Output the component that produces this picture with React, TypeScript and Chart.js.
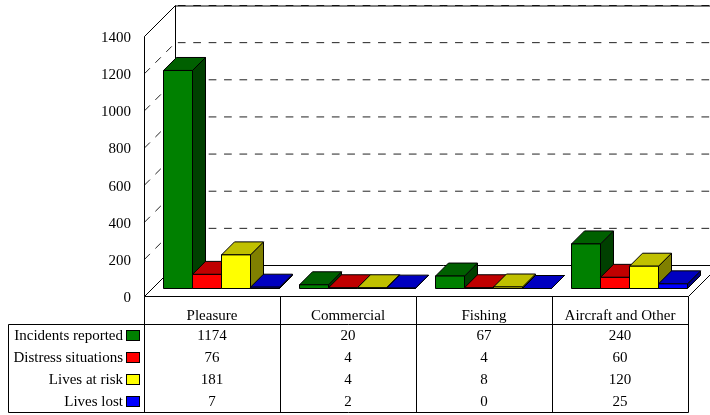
import React, { useEffect, useRef } from "react";
import { Chart, registerables } from "chart.js";

Chart.register(...registerables);

const categories = ["Pleasure", "Commercial", "Fishing", "Aircraft and Other"];
const seriesNames = ["Incidents reported", "Distress situations", "Lives at risk", "Lives lost"];
const incidentsReported = [1174, 20, 67, 240];
const distressSituations = [76, 4, 4, 60];
const livesAtRisk = [181, 4, 8, 120];
const livesLost = [7, 2, 0, 25];
const seriesValues = [incidentsReported, distressSituations, livesAtRisk, livesLost];

const frontColors = ["#008000", "#ff0000", "#ffff00", "#0000ff"];
const topColors = ["#006000", "#c00000", "#c0c000", "#0000c0"];
const sideColors = ["#004000", "#800000", "#808000", "#000080"];

const FAMILY = '"Liberation Serif", serif';
const FONT = `15px ${FAMILY}`;
const WALL = 31;
const BAR_DEPTH = 13;
const SHIFT_X = 9;
const SHIFT_Y = -8;
const TABLE_LEFT = 8;
const HEADER_BOTTOM = 324;
const ROW_H = 22;
const EDGE = 730;

function poly(ctx: CanvasRenderingContext2D, pts: number[][], fill?: string) {
  ctx.beginPath();
  pts.forEach((p, i) => (i ? ctx.lineTo(p[0], p[1]) : ctx.moveTo(p[0], p[1])));
  ctx.closePath();
  if (fill) {
    ctx.fillStyle = fill;
    ctx.fill();
  }
  ctx.stroke();
}

const chart3d = {
  id: "chart3d",
  beforeDatasetDraw() {
    return false;
  },
  beforeDatasetsDraw(chart: any) {
    const { ctx, chartArea: a, scales } = chart;
    const L = a.left, R = a.right, T = a.top, B = a.bottom;
    ctx.save();
    ctx.translate(0.5, 0.5);
    ctx.lineWidth = 1;

    // dashed grid running over the left wall and the back wall
    ctx.setLineDash([7.7, 7.7]);
    ctx.strokeStyle = "#222";
    scales.y.ticks.forEach((t: any) => {
      if (t.value === 0) return;
      const p = scales.y.getPixelForValue(t.value);
      ctx.beginPath();
      ctx.moveTo(L, p);
      ctx.lineTo(L + WALL, p - WALL);
      ctx.lineTo(EDGE, p - WALL);
      ctx.stroke();
    });
    ctx.setLineDash([]);
    ctx.strokeStyle = "#000";

    // walls and floor
    ctx.beginPath();
    ctx.moveTo(L, B);
    ctx.lineTo(L, T);
    ctx.lineTo(L + WALL, T - WALL);
    ctx.lineTo(L + WALL, B - WALL);
    ctx.lineTo(L, B);
    ctx.moveTo(L + WALL, T - WALL + 0.5);
    ctx.lineTo(EDGE, T - WALL + 0.5);
    ctx.moveTo(L + WALL, B - WALL);
    ctx.lineTo(EDGE, B - WALL);
    ctx.moveTo(R, B);
    ctx.lineTo(R + WALL, B - WALL);
    ctx.stroke();

    // data table
    const bottom = HEADER_BOTTOM + ROW_H * seriesNames.length;
    ctx.beginPath();
    ctx.moveTo(L, B);
    ctx.lineTo(R, B);
    ctx.moveTo(TABLE_LEFT, HEADER_BOTTOM);
    ctx.lineTo(R, HEADER_BOTTOM);
    ctx.moveTo(TABLE_LEFT, bottom);
    ctx.lineTo(R, bottom);
    ctx.moveTo(TABLE_LEFT, HEADER_BOTTOM);
    ctx.lineTo(TABLE_LEFT, bottom);
    const cw = (R - L) / categories.length;
    for (let i = 0; i <= categories.length; i++) {
      ctx.moveTo(L + cw * i, B);
      ctx.lineTo(L + cw * i, bottom);
    }
    ctx.stroke();

    ctx.font = FONT;
    ctx.textBaseline = "middle";
    seriesNames.forEach((name, r) => {
      const y = HEADER_BOTTOM + ROW_H * r + ROW_H / 2;
      ctx.fillStyle = "#000";
      ctx.textAlign = "right";
      ctx.fillText(name, L - 21.5, y + 0.5);
      ctx.textAlign = "center";
      seriesValues[r].forEach((v, c) => {
        ctx.fillText(String(v), L + cw * (c + 0.5) - 0.5, y + 0.5);
      });
      ctx.fillStyle = frontColors[r];
      ctx.fillRect(L - 18, y - 5, 13, 10);
      ctx.strokeRect(L - 18, y - 5, 13, 10);
    });

    // bars
    chart.data.datasets.forEach((_: any, d: number) => {
      chart.getDatasetMeta(d).data.forEach((el: any) => {
        const x0 = el.x - el.width / 2 + SHIFT_X;
        const x1 = el.x + el.width / 2 + SHIFT_X;
        const top = el.y + SHIFT_Y;
        const base = el.base + SHIFT_Y;
        poly(ctx, [[x1, top], [x1 + BAR_DEPTH, top - BAR_DEPTH], [x1 + BAR_DEPTH, base - BAR_DEPTH], [x1, base]], sideColors[d]);
        poly(ctx, [[x0, top], [x0 + BAR_DEPTH, top - BAR_DEPTH], [x1 + BAR_DEPTH, top - BAR_DEPTH], [x1, top]], topColors[d]);
        poly(ctx, [[x0, top], [x1, top], [x1, base], [x0, base]], frontColors[d]);
      });
    });
    ctx.restore();
  },
};

export default function App() {
  const ref = useRef<HTMLCanvasElement>(null);
  useEffect(() => {
    const chart = new Chart(ref.current!, {
      type: "bar",
      data: {
        labels: categories,
        datasets: seriesNames.map((name, i) => ({
          label: name,
          data: seriesValues[i],
          backgroundColor: frontColors[i],
          categoryPercentage: 116 / 136,
          barPercentage: 1,
        })),
      },
      options: {
        responsive: false,
        animation: false,
        layout: { padding: { top: 36, right: 22, bottom: 0, left: 0 } },
        plugins: { legend: { display: false }, tooltip: { enabled: false } },
        scales: {
          x: {
            grid: { display: false, drawTicks: false },
            border: { display: false },
            afterFit: (s: any) => {
              s.height = 119;
            },
            ticks: {
              color: "#000",
              font: { family: FAMILY, size: 15 },
              padding: 11,
              maxRotation: 0,
              autoSkip: false,
            },
          },
          y: {
            min: 0,
            max: 1400,
            grid: { display: false, drawTicks: false },
            border: { display: false },
            afterFit: (s: any) => {
              s.width = 144;
            },
            ticks: {
              stepSize: 200,
              color: "#000",
              font: { family: FAMILY, size: 15 },
              padding: 13,
              labelOffset: 2,
              callback: (v: any) => String(v),
            },
          },
        },
      },
      plugins: [chart3d],
    } as any);
    return () => chart.destroy();
  }, []);
  return (
    <div style={{ position: "absolute", left: 0, top: 0, width: 710, height: 415, background: "#fff" }}>
      <canvas ref={ref} width={710} height={415} style={{ display: "block" }} />
    </div>
  );
}
